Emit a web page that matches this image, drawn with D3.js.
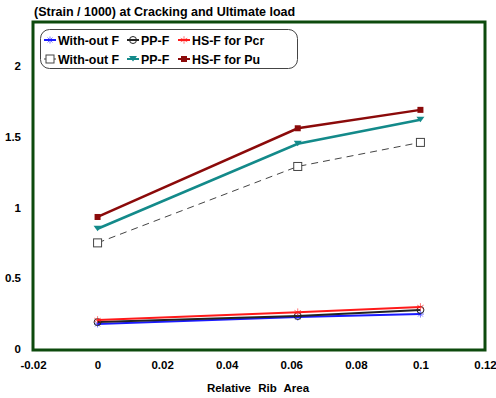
<html>
<head>
<script src="https://cdn.jsdelivr.net/npm/d3@7"></script>
<style>
  body { margin: 0; background: #fff; }
  text { font-family: Arial, "Liberation Sans", sans-serif; font-weight: bold; }
</style>
</head>
<body>
<svg id="chart" width="496" height="398"></svg>
<script>
  // data
  const ribArea = [0, 0.062, 0.1]
  const woutPcr = [0.177, 0.226, 0.247]
  const ppPcr = [0.19, 0.233, 0.276]
  const hsPcr = [0.205, 0.26, 0.297]
  const woutPu = [0.75, 1.29, 1.46]
  const ppPu = [0.85, 1.45, 1.62]
  const hsPu = [0.933, 1.56, 1.69]
  const xTicks = [-0.02, 0, 0.02, 0.04, 0.06, 0.08, 0.1, 0.12]
  const yTicks = [0, 0.5, 1, 1.5, 2]

  const series = [
    { name: 'With-out F', values: woutPcr, color: '#1a1aff', width: 2, marker: 'cross' },
    { name: 'PP-F', values: ppPcr, color: '#222', width: 2, marker: 'circle' },
    { name: 'HS-F for Pcr', values: hsPcr, color: '#ff1a1a', width: 2, marker: 'star' },
    { name: 'With-out F', values: woutPu, color: '#444', width: 1, marker: 'square', dash: '7,5' },
    { name: 'PP-F', values: ppPu, color: '#138a8a', width: 2.5, marker: 'tri' },
    { name: 'HS-F for Pu', values: hsPu, color: '#8b0a0a', width: 2.5, marker: 'fsquare' }
  ]

  const svg = d3.select('#chart')
  const plotL = 33, plotR = 485, plotT = 22, plotB = 350
  const x = d3.scaleLinear().domain([-0.02, 0.12]).range([plotL, plotR])
  const y = d3.scaleLinear().domain([0, 2.3]).range([349, 349 - 2.3 * 141.5])

  svg.append('text').attr('x', 34).attr('y', 16).attr('font-size', 12.5)
    .text('(Strain / 1000) at Cracking and Ultimate load')

  // axes labels
  const fmt = d => String(+d.toFixed(2))
  const xAxis = d3.axisBottom(x).tickValues(xTicks).tickSize(0).tickFormat(fmt)
  svg.append('g').attr('transform', `translate(0,${plotB + 8})`).call(xAxis)
    .call(g => g.select('.domain').remove())
    .selectAll('text').attr('font-size', 11.5).attr('fill', '#000')
  const yAxis = d3.axisLeft(y).tickValues(yTicks).tickSize(0).tickFormat(fmt)
  svg.append('g').attr('transform', `translate(24,0)`).call(yAxis)
    .call(g => g.select('.domain').remove())
    .selectAll('text').attr('font-size', 11.5).attr('fill', '#000')

  svg.append('text').attr('x', 258).attr('y', 392).attr('text-anchor', 'middle')
    .attr('font-size', 11.5).attr('word-spacing', 4).text('Relative Rib Area')

  const line = d3.line().x((d, i) => x(ribArea[i])).y(d => y(d))

  function marker(g, type, color, cx, cy) {
    if (type === 'cross') {
      g.append('path').attr('d', `M${cx - 3.5},${cy}H${cx + 3.5}M${cx},${cy - 3.5}V${cy + 3.5}M${cx - 2.5},${cy - 2.5}L${cx + 2.5},${cy + 2.5}M${cx - 2.5},${cy + 2.5}L${cx + 2.5},${cy - 2.5}`)
        .attr('stroke', color).attr('stroke-width', 1).attr('fill', 'none').attr('opacity', 0.6)
    } else if (type === 'circle') {
      g.append('circle').attr('cx', cx).attr('cy', cy).attr('r', 3.5).attr('fill', 'none').attr('stroke', color).attr('stroke-width', 1)
    } else if (type === 'star') {
      g.append('path').attr('d', d3.symbol(d3.symbolAsterisk, 40)()).attr('transform', `translate(${cx},${cy})`)
        .attr('fill', 'none').attr('stroke', color).attr('stroke-width', 1).attr('opacity', 0.6)
    } else if (type === 'square') {
      g.append('rect').attr('x', cx - 4).attr('y', cy - 4).attr('width', 8).attr('height', 8)
        .attr('fill', '#fff').attr('stroke', color).attr('stroke-width', 1)
    } else if (type === 'tri') {
      g.append('path').attr('d', `M${cx - 4},${cy - 3}L${cx + 4},${cy - 3}L${cx},${cy + 2.5}Z`).attr('fill', color)
    } else if (type === 'fsquare') {
      g.append('rect').attr('x', cx - 3).attr('y', cy - 3).attr('width', 6).attr('height', 6).attr('fill', color)
    }
  }

  const plot = svg.append('g')
  series.forEach(s => {
    plot.append('path').datum(s.values).attr('d', line).attr('fill', 'none')
      .attr('stroke', s.color).attr('stroke-width', s.width).attr('stroke-dasharray', s.dash || null)
    s.values.forEach((v, i) => marker(plot, s.marker, s.color, x(ribArea[i]), y(v)))
  })

  // frame
  svg.append('rect').attr('x', plotL).attr('y', plotT).attr('width', plotR - plotL).attr('height', plotB - plotT)
    .attr('fill', 'none').attr('stroke', '#0d4a0d').attr('stroke-width', 3)

  // legend
  const lg = svg.append('g')
  lg.append('rect').attr('x', 40.5).attr('y', 29.5).attr('width', 257).attr('height', 39).attr('rx', 9)
    .attr('fill', '#fff').attr('stroke', '#444').attr('stroke-width', 1)
  const colX = [50, 133, 184]
  series.forEach((s, i) => {
    const cx = colX[i % 3], cy = i < 3 ? 40 : 59
    lg.append('line').attr('x1', cx - 6).attr('x2', cx + 6).attr('y1', cy).attr('y2', cy)
      .attr('stroke', s.color).attr('stroke-width', s.width > 1 ? 2 : 1)
    marker(lg, s.marker, s.color, cx, cy)
    lg.append('text').attr('x', cx + 8).attr('y', cy + 4.5).attr('font-size', 12.4).text(s.name)
  })
</script>
</body>
</html>
